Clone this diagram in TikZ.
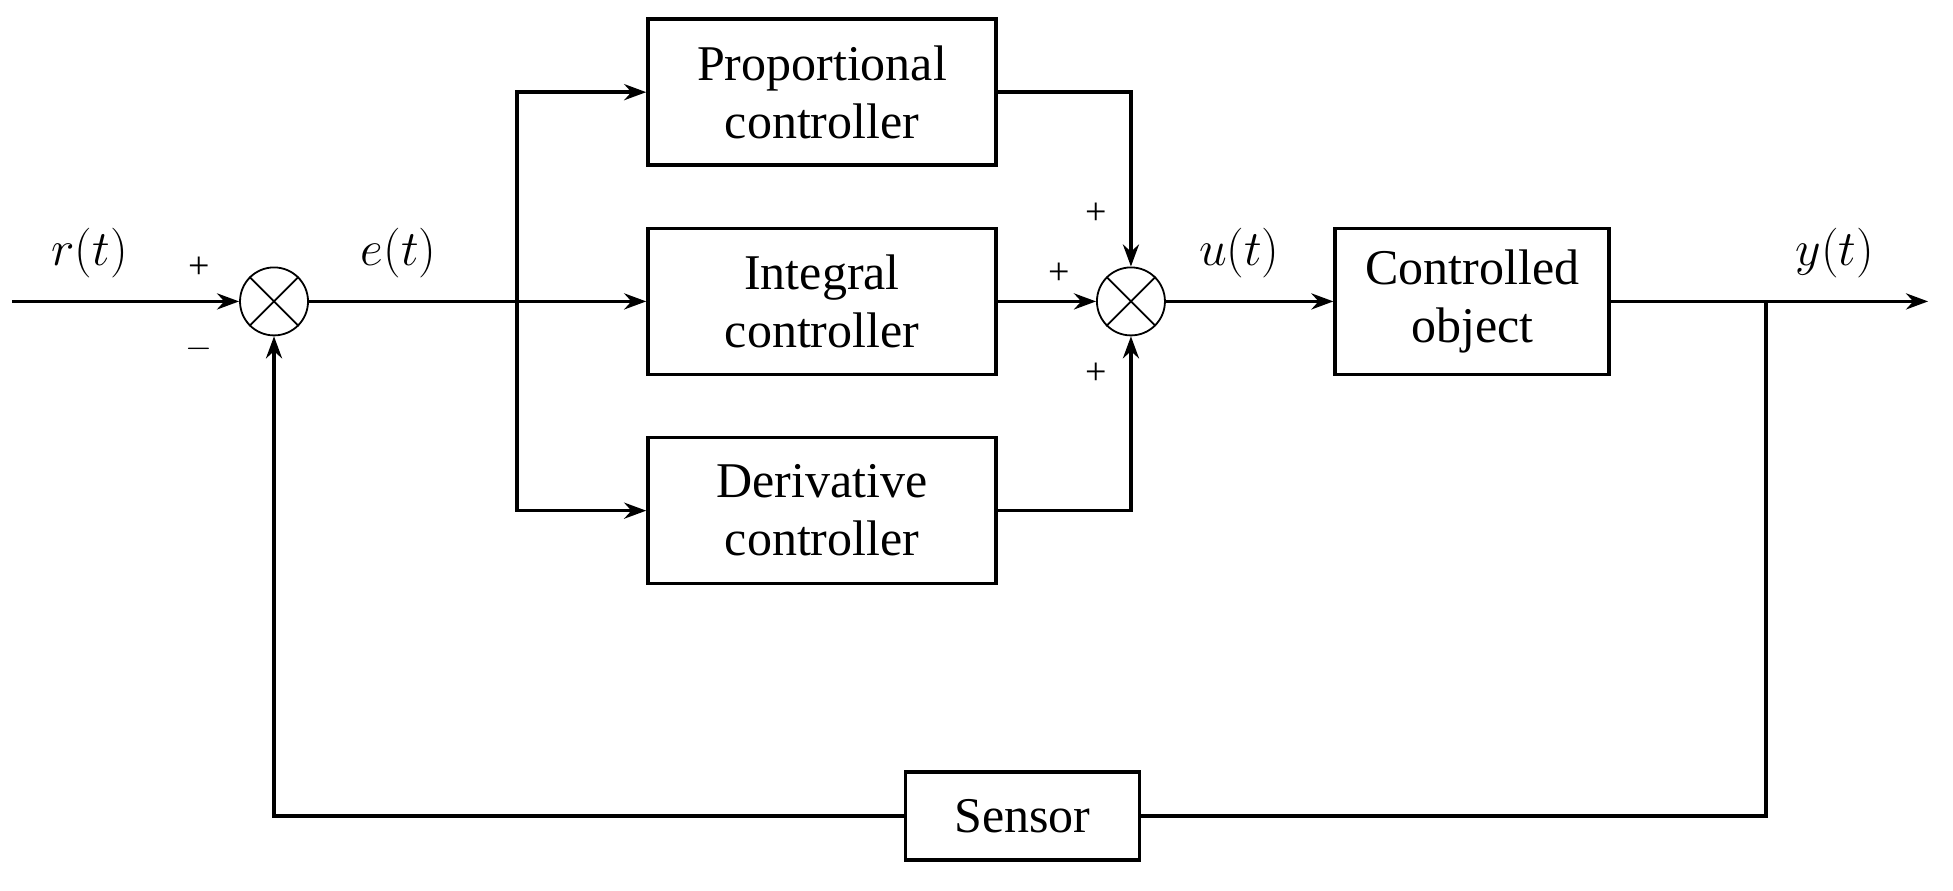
\documentclass[tikz,border=0pt]{standalone}
\usepackage{fontspec}
\setmainfont{Liberation Serif}
\usetikzlibrary{arrows.meta}
\begin{document}
\begin{tikzpicture}[x=0.6227pt,y=-0.6227pt,
 blk/.style={draw,line width=1.8pt,align=center,font=\fontsize{25}{29}\selectfont,inner sep=0pt},
 sum/.style={draw,circle,line width=0.9pt,minimum size=34pt,inner sep=0pt},
 ln/.style={line width=1.8pt},
 ar/.style={ln,-{Stealth[length=11pt,width=8pt]}},
 lbl/.style={font=\fontsize{25}{29}\selectfont},
 sg/.style={font=\fontsize{19}{22}\selectfont}]
\useasboundingbox (0,0) rectangle (1568,715);
\node[blk,minimum width=174pt,minimum height=73pt] (P) at (660,74) {Proportional\\controller};
\node[blk,minimum width=174pt,minimum height=73pt] (I) at (660,242) {Integral\\controller};
\node[blk,minimum width=174pt,minimum height=73pt] (D) at (660,410) {Derivative\\controller};
\node[blk,minimum width=137pt,minimum height=73pt] (C) at (1182,242) {Controlled\\object};
\node[blk,minimum width=117pt,minimum height=44pt] (S) at (821,655) {Sensor};
\node[sum] (s1) at (220,242) {};
\node[sum] (s2) at (908,242) {};
\foreach \s in {s1,s2}{\draw[line width=0.9pt] (\s.45)--(\s.225) (\s.135)--(\s.315);}
\coordinate (in) at (10,242);
\coordinate (b) at (415,242);
\coordinate (o) at (1548,242);
\coordinate (f) at (1418,242);
\draw[ar] (in)--(s1.west);
\draw[ln] (s1.east)--(b);
\draw[ar] (b)--(I.west);
\draw[ar] (b)|-(P.west);
\draw[ar] (b)|-(D.west);
\draw[ar] (P.east)-|(s2.north);
\draw[ar] (I.east)--(s2.west);
\draw[ar] (D.east)-|(s2.south);
\draw[ar] (s2.east)--(C.west);
\draw[ar] (C.east)--(o);
\draw[ln] (f)|-(S.east);
\draw[ar] (S.west)-|(s1.south);
\node[lbl] at (72,203) {$r(t)$};
\node[lbl] at (320,203) {$e(t)$};
\node[lbl] at (995,203) {$u(t)$};
\node[lbl] at (1473,203) {$y(t)$};
\node[sg] at (160,215) {+};
\node[sg] at (160,280) {$-$};
\node[sg] at (880,172) {+};
\node[sg] at (850,220) {+};
\node[sg] at (880,300) {+};
\end{tikzpicture}
\end{document}
